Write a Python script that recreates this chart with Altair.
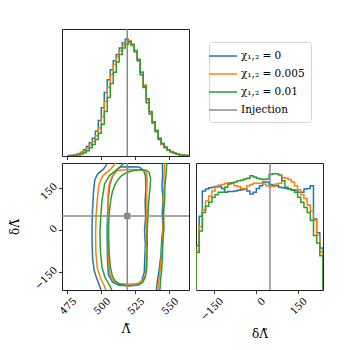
import altair as alt
import pandas as pd

FONT = "DejaVu Serif"

SERIES = ["χ₁,₂ = 0", "χ₁,₂ = 0.005", "χ₁,₂ = 0.01"]
INJ_LABEL = "Injection"
COLORS = ["#1f77b4", "#ff7f0e", "#2ca02c", "#8a8a8a"]

LAMBDA_DOMAIN = [471.3, 564.7]
DELTA_DOMAIN = [-214.0, 241.0]
INJECTION_LAMBDA = 519.3
INJECTION_DELTA = 51.0
LAMBDA_TICKS = [475, 500, 525, 550]
DELTA_TICKS = [-150, 0, 150]

# 1D histogram of Lambda-tilde (40 bins)
LAMBDA_BIN_START = 476.0
LAMBDA_BIN_WIDTH = 2.2
lambda_hist_chi0 = [0.3, 0.6, 1.0, 1.8, 3.0, 5.0, 7.5, 10.5, 14, 19.5, 28, 38, 50, 60, 68, 75, 80, 85, 89, 92,
                    90, 87, 82, 75, 64, 54, 42, 33, 26, 19, 13, 9, 6.5, 4.5, 3.2, 2.3, 1.5, 1.0, 0.6, 0.3]
lambda_hist_chi0005 = [0.2, 0.4, 0.7, 1.3, 2.3, 3.8, 6.0, 8.5, 11.5, 16, 22, 31, 43, 54, 64, 72, 78, 83, 87, 90,
                       91, 87, 82, 76, 66, 56, 44, 34, 27, 20, 14, 9.5, 7, 4.8, 3.3, 2.3, 1.5, 1.0, 0.6, 0.3]
lambda_hist_chi001 = [0.1, 0.2, 0.4, 0.8, 1.5, 2.6, 4.2, 6.5, 9, 13, 18, 25, 35, 46, 57, 66, 74, 80, 85, 88,
                      90, 88, 83, 76, 66, 55, 45, 35, 27, 20, 14, 10, 7, 5, 3.5, 2.4, 1.6, 1.0, 0.6, 0.3]

# 1D histogram of delta-Lambda-tilde (40 bins)
DELTA_BIN_START = -214.0
DELTA_BIN_WIDTH = 11.375
delta_hist_chi0 = [35, 58, 78, 79.5, 80.5, 81, 81.5, 81.5, 80, 77, 77.5, 77.5, 78, 78.5, 79, 79.5, 78, 75.5, 77, 80,
                   82, 85, 85, 83, 82.5, 82, 81, 80.5, 80, 79.5, 79, 78.5, 77, 77, 79.5, 80, 82, 56, 45, 33]
delta_hist_chi0005 = [31, 50, 63, 70, 74, 78, 81, 82.5, 83, 84, 84.5, 84, 82, 81.5, 80, 80, 82, 83, 84, 84,
                      84, 83.5, 82, 81.5, 81.5, 83.5, 84, 88.5, 88, 87, 85, 82, 79, 75, 72, 67, 62, 55, 43, 30]
delta_hist_chi001 = [29.5, 46.5, 61, 66, 69, 73, 75, 77, 77, 81, 83.5, 84.5, 85, 86, 86.5, 87.5, 88, 90, 89, 88,
                     87.5, 87, 87.5, 91, 91.5, 91.5, 90.5, 86, 81, 79.5, 78.5, 77, 73, 69, 65, 61, 55, 43, 37, 27]

# 2D credible contours (Lambda-tilde, delta-Lambda-tilde)
blue_inner = [(514.5, 227), (520, 228), (527.9, 227), (531.2, 216), (532.7, 195), (533, 150), (532.4, 100),
              (532.8, 50), (532, 0), (532.6, -50), (532.2, -100), (531.8, -150), (530, -180), (526.7, -196),
              (520, -199), (513.2, -197), (508.5, -186), (505.5, -160), (504.8, -110), (504.6, -50), (504.5, 0),
              (504.8, 60), (505.5, 120), (506.5, 165), (508.3, 190), (510.5, 210), (512, 220), (514.5, 227)]
blue_outer_left = [(504.2, 236), (501.8, 219), (497.5, 202), (495.4, 180), (494.5, 140), (493.8, 80), (493.4, 20),
                   (493.4, -40), (493.8, -100), (495, -145), (497, -175), (499, -200), (500, -214)]
blue_outer_right = [(545.1, 241), (545.3, 200), (544.8, 160), (545.6, 110), (545, 60), (545.5, 10), (544.6, -40),
                    (544, -90), (542.8, -140), (541.5, -180), (540.7, -214)]
orange_inner = [(512, 214), (520, 218), (530.4, 217), (533.5, 205), (534, 180), (533.5, 130), (533.8, 80),
                (533.2, 30), (533.6, -20), (533, -70), (533.2, -120), (532.6, -160), (530.8, -180), (527, -191),
                (520, -193), (513, -191), (509, -180), (506.5, -155), (505.5, -110), (505.3, -50), (505.2, 10),
                (505.1, 70), (505.1, 126), (506, 165), (507.8, 190), (509.6, 202), (512, 214)]
orange_outer_left = [(510.8, 241), (507.1, 219), (501.5, 196), (498.5, 165), (497.2, 110), (496.4, 50), (496, -10),
                     (496.2, -80), (497.2, -135), (499.5, -170), (502, -195), (503.5, -214)]
orange_outer_right = [(546.8, 241), (546.3, 200), (546.5, 160), (545.6, 110), (546.2, 60), (545.5, 10),
                      (545.3, -40), (544.5, -90), (543.5, -140), (542.6, -180), (541.9, -214)]
green_inner = [(512, 178), (515, 195), (519.3, 208), (524, 214), (529.2, 217), (533, 215), (535.3, 208),
               (536.5, 184), (536, 150), (535, 100), (534.5, 50), (534, 0), (534, -50), (533.8, -100),
               (533.5, -140), (532.5, -170), (530.5, -188), (527, -197), (520, -199), (514, -194), (510.5, -182),
               (508.3, -163), (506.8, -130), (506, -80), (505.6, -30), (505.6, 20), (506.2, 70), (507.2, 110),
               (508.3, 137), (510, 160), (512, 178)]
green_outer_left = [(516.9, 241), (512.3, 219), (506.1, 196), (502.6, 165), (500.8, 110), (499.8, 50), (499.2, -10),
                    (499.6, -80), (500.8, -135), (503, -170), (506, -195), (508, -214)]
green_outer_right = [(548.4, 241), (547.8, 200), (547, 160), (546.8, 110), (545.9, 60), (546.3, 10), (545.5, -40),
                     (545.2, -90), (544.6, -140), (543.8, -180), (543.3, -214)]

W = 127

color_scale = alt.Scale(domain=SERIES + [INJ_LABEL], range=COLORS)


def step_rows(start, width, named):
    rows = []
    for name, vals in named:
        n = len(vals)
        rows.append({"series": name, "x": start, "h": 0.0, "o": -1})
        for i, v in enumerate(vals):
            rows.append({"series": name, "x": start + i * width, "h": v, "o": 2 * i})
            rows.append({"series": name, "x": start + (i + 1) * width, "h": v, "o": 2 * i + 1})
        rows.append({"series": name, "x": start + n * width, "h": 0.0, "o": 2 * n})
    return pd.DataFrame(rows)


lam_df = step_rows(LAMBDA_BIN_START, LAMBDA_BIN_WIDTH,
                   list(zip(SERIES, [lambda_hist_chi0, lambda_hist_chi0005, lambda_hist_chi001])))
del_df = step_rows(DELTA_BIN_START, DELTA_BIN_WIDTH,
                   list(zip(SERIES, [delta_hist_chi0, delta_hist_chi0005, delta_hist_chi001])))

crow = []
paths = [
    (SERIES[0], "inner", blue_inner), (SERIES[0], "ol", blue_outer_left), (SERIES[0], "or", blue_outer_right),
    (SERIES[1], "inner", orange_inner), (SERIES[1], "ol", orange_outer_left), (SERIES[1], "or", orange_outer_right),
    (SERIES[2], "inner", green_inner), (SERIES[2], "ol", green_outer_left), (SERIES[2], "or", green_outer_right),
]
for name, pid, pts in paths:
    for k, (a, b) in enumerate(pts):
        crow.append({"series": name, "path": name + pid, "lam": a, "dl": b, "o": k})
cont_df = pd.DataFrame(crow)

inj_df = pd.DataFrame({"lam": [INJECTION_LAMBDA], "dl": [INJECTION_DELTA], "series": [INJ_LABEL]})

lam_scale = alt.Scale(domain=LAMBDA_DOMAIN, nice=False, zero=False)
del_scale = alt.Scale(domain=DELTA_DOMAIN, nice=False, zero=False)
h_scale = alt.Scale(domain=[0, 100], nice=False)

col_nolegend = alt.Color("series:N", scale=color_scale, legend=None)

XLAB = dict(labelAngle=315, labelAlign="right", labelBaseline="top", labelOffset=4, labelPadding=2,
            tickSize=3.5, titlePadding=7)

# --- top-left: Lambda histogram
top_lines = alt.Chart(lam_df).mark_line(strokeWidth=1.5, clip=True).encode(
    x=alt.X("x:Q", scale=lam_scale,
            axis=alt.Axis(values=LAMBDA_TICKS, labels=False, title=None, tickSize=3.5)),
    y=alt.Y("h:Q", scale=h_scale, axis=None),
    color=col_nolegend, order="o:Q",
)
top_rule = alt.Chart(inj_df).mark_rule(strokeWidth=1.5).encode(
    x=alt.X("lam:Q", scale=lam_scale), color=col_nolegend)
top = alt.layer(top_lines, top_rule).properties(width=W, height=W)

# --- top-right: legend
legend_df = pd.DataFrame({"series": SERIES + [INJ_LABEL]})
legend_cell = alt.Chart(legend_df).mark_line(strokeWidth=1.5).encode(
    x=alt.value(0), y=alt.value(0),
    color=alt.Color("series:N", scale=color_scale, legend=alt.Legend(
        title=None, orient="none", legendX=13, legendY=13, symbolType="M-2,0H2",
        symbolSize=196, symbolStrokeWidth=1.5, labelFont=FONT, labelFontSize=10.5,
        labelColor="black", labelOffset=10, strokeColor="#d5d5d5", cornerRadius=3,
        padding=6, fillColor="white", rowPadding=4)),
).properties(width=W, height=W, view=alt.ViewBackground(stroke="transparent"))

# --- bottom-left: 2D contours
cont_lines = alt.Chart(cont_df).mark_line(strokeWidth=1.5, clip=True).encode(
    x=alt.X("lam:Q", scale=lam_scale,
            axis=alt.Axis(values=LAMBDA_TICKS, title="Λ̃", **XLAB)),
    y=alt.Y("dl:Q", scale=del_scale,
            axis=alt.Axis(values=DELTA_TICKS, labelAngle=315, labelAlign="right", labelBaseline="middle",
                          labelOffset=-4, title="δΛ̃", tickSize=3.5, labelPadding=3, titlePadding=11)),
    color=col_nolegend, detail="path:N", order="o:Q",
)
v_rule = alt.Chart(inj_df).mark_rule(strokeWidth=1.5).encode(
    x=alt.X("lam:Q", scale=lam_scale), color=col_nolegend)
h_rule = alt.Chart(inj_df).mark_rule(strokeWidth=1.5).encode(
    y=alt.Y("dl:Q", scale=del_scale), color=col_nolegend)
inj_pt = alt.Chart(inj_df).mark_square(size=40, opacity=1).encode(
    x=alt.X("lam:Q", scale=lam_scale), y=alt.Y("dl:Q", scale=del_scale), color=col_nolegend)
contour = alt.layer(cont_lines, v_rule, h_rule, inj_pt).properties(width=W, height=W)

# --- bottom-right: delta-Lambda histogram
right_lines = alt.Chart(del_df).mark_line(strokeWidth=1.5, clip=True).encode(
    x=alt.X("x:Q", scale=del_scale,
            axis=alt.Axis(values=DELTA_TICKS, title="δΛ̃", **XLAB)),
    y=alt.Y("h:Q", scale=h_scale, axis=None),
    color=col_nolegend, order="o:Q",
)
right_rule = alt.Chart(inj_df).mark_rule(strokeWidth=1.5).encode(
    x=alt.X("dl:Q", scale=del_scale), color=col_nolegend)
right = alt.layer(right_lines, right_rule).properties(width=W, height=W)

chart = alt.concat(
    top, legend_cell, contour, right, columns=2, spacing=7, bounds="flush"
).resolve_scale(
    color="independent", x="independent", y="independent"
).properties(
    padding={"left": 0, "top": 17, "right": 2, "bottom": 2}
).configure_view(
    stroke="#222222", strokeWidth=1
).configure_axis(
    labelFont=FONT, titleFont=FONT, labelFontSize=10, titleFontSize=12, titleFontWeight="normal",
    labelColor="black", titleColor="black", tickColor="black", tickWidth=0.8, grid=False, domain=False,
)

chart.save("out.html", embed_options={"renderer": "svg", "actions": False})
